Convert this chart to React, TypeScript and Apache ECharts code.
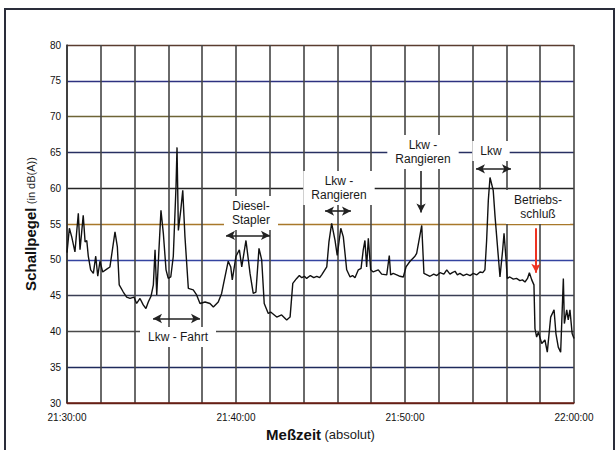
import React, { useEffect, useRef } from "react";
import * as echarts from "echarts";

// minutes after 21:30:00
const minutes = [
  0.0, 0.14, 0.28, 0.47, 0.67, 0.77, 0.87, 0.96, 1.07, 1.17, 1.26, 1.4, 1.56, 1.7, 1.82, 1.95,
  2.11, 2.35, 2.54, 2.84, 2.98, 3.09, 3.33, 3.53, 3.73, 3.96, 4.12, 4.32, 4.51, 4.67, 4.81, 4.97,
  5.11, 5.21, 5.31, 5.43, 5.56, 5.7, 5.86, 5.99, 6.14, 6.29, 6.45, 6.51, 6.59, 6.73, 6.85, 6.98,
  7.18, 7.47, 7.67, 7.87, 8.17, 8.46, 8.66, 8.95, 9.15, 9.25, 9.54, 9.69, 9.78, 10.0, 10.2, 10.34,
  10.59, 10.83, 11.02, 11.18, 11.36, 11.52, 11.67, 11.91, 12.05, 12.41, 12.7, 13.0, 13.2, 13.36,
  13.59, 13.75, 13.89, 14.05, 14.18, 14.4, 14.6, 14.78, 14.95, 15.07, 15.37, 15.5, 15.66, 15.86,
  15.99, 16.2, 16.35, 16.55, 16.75, 16.9, 17.04, 17.24, 17.4, 17.53, 17.63, 17.73, 17.83, 17.97,
  18.12, 18.42, 18.62, 18.92, 19.07, 19.15, 19.3, 19.51, 19.7, 19.9, 20.06, 20.3, 20.59, 20.69,
  20.99, 21.12, 21.48, 21.7, 21.88, 22.07, 22.3, 22.47, 22.66, 22.8, 22.96, 23.1, 23.25, 23.45,
  23.65, 23.85, 24.04, 24.25, 24.44, 24.6, 24.73, 24.83, 24.93, 25.03, 25.22, 25.33, 25.62, 25.78,
  25.86, 25.98, 26.05, 26.2, 26.41, 26.6, 26.8, 26.95, 27.1, 27.25, 27.36, 27.5, 27.63, 27.69,
  27.79, 27.89, 28.09, 28.28, 28.42, 28.62, 28.82, 28.93, 29.07, 29.21, 29.37, 29.43, 29.57, 29.66,
  29.76, 29.89, 30.0,
];

// Schallpegel in dB(A)
const levels = [
  51.0, 54.4, 53.2, 51.1, 56.5, 51.4, 53.9, 56.2, 52.5, 52.7, 50.5, 48.6, 48.1, 50.5, 47.7, 49.8,
  48.3, 48.7, 49.0, 53.9, 51.8, 46.5, 45.5, 44.8, 44.6, 44.8, 43.9, 44.6, 43.7, 43.2, 44.1, 44.9,
  46.5, 51.4, 45.1, 50.9, 56.9, 53.7, 48.6, 47.4, 47.6, 50.5, 60.2, 65.7, 54.1, 56.9, 59.7, 53.2,
  46.0, 45.8, 45.1, 43.9, 44.1, 43.9, 43.4, 44.1, 45.3, 46.5, 49.8, 49.0, 47.2, 50.5, 51.4, 49.0,
  52.7, 48.1, 45.3, 45.5, 51.6, 50.0, 43.9, 42.5, 42.7, 42.0, 42.3, 41.6, 42.0, 46.7,
  47.4, 47.8, 47.5, 47.7, 47.4, 47.8, 47.5, 47.7, 47.5, 47.9, 49.0, 52.5, 55.1, 52.7,
  50.6, 54.4, 53.2, 48.6, 47.6, 47.8, 47.5, 48.6, 48.8, 51.4, 52.7, 49.0, 53.0, 48.6,
  48.3, 48.6, 48.0, 47.9, 50.6, 47.9, 48.1, 47.9, 47.7, 47.6, 49.0, 49.8, 50.5, 50.9,
  54.8, 48.1, 47.7, 48.0, 47.8, 48.2, 48.0, 48.6, 48.0, 48.2, 48.4, 47.9, 48.1, 47.8,
  48.0, 47.8, 48.1, 47.9, 48.3, 48.2, 48.6, 52.7, 58.3, 61.5, 59.7, 56.0, 47.6, 51.4,
  53.7, 50.0, 47.4, 47.6, 47.3, 47.4, 47.1, 47.2, 46.9, 47.4, 48.2, 47.2, 46.5, 40.4,
  39.2, 39.9, 38.3, 38.8, 37.1, 42.0, 43.0, 39.7, 37.8, 37.1, 47.4, 41.1, 43.0, 41.6,
  43.0, 39.7, 39.0,
];

// horizontal gridline colours, from 30 to 80 dB(A)
const gridColors = [
  "#5a2418", "#1e2a5c", "#4a4a4a", "#3a3f55", "#3444a0", "#a8782a",
  "#252525", "#283062", "#6e6436", "#2d3280", "#5a3c30",
];

const annotations = [
  { text: "Lkw - Fahrt", x: 178, y: 337 },
  { text: "Diesel-\nStapler", x: 251, y: 213 },
  { text: "Lkw -\nRangieren", x: 339, y: 188 },
  { text: "Lkw -\nRangieren", x: 423, y: 152 },
  { text: "Lkw", x: 491, y: 151 },
  { text: "Betriebs-\nschluß", x: 538, y: 207 },
];

// arrows: [startMinute, startLevel, endMinute, endLevel, twoHeaded]
const arrows: [number, number, number, number, boolean][] = [
  [5.09, 41.8, 7.87, 41.8, true],
  [9.41, 53.4, 12.01, 53.4, true],
  [15.27, 56.8, 16.8, 56.8, true],
  [20.95, 62.4, 20.95, 56.6, false],
  [24.2, 62.7, 26.27, 62.7, true],
];
const redArrow: [number, number, number, number] = [27.75, 54.4, 27.75, 48.2];

function timeLabel(v: number) {
  const total = 21 * 60 + 30 + Math.round(v);
  const h = Math.floor(total / 60);
  const m = total % 60;
  return `${h}:${String(m).padStart(2, "0")}:00`;
}

export default function App() {
  const ref = useRef<HTMLDivElement>(null);
  useEffect(() => {
    if (!ref.current) return;
    const chart = echarts.init(ref.current, undefined, { renderer: "svg" });
    const data = minutes.map((m, i) => [m, levels[i]]);
    const font = "Arial, 'Liberation Sans', sans-serif";
    const arrowData: any[] = arrows.map((a) => [
      { coord: [a[0], a[1]], symbol: a[4] ? "arrow" : "none" },
      { coord: [a[2], a[3]], symbol: "arrow" },
    ]);
    arrowData.push([
      { coord: [redArrow[0], redArrow[1]], symbol: "none", lineStyle: { color: "#ee3322", width: 2 } },
      { coord: [redArrow[2], redArrow[3]], symbol: "arrow", lineStyle: { color: "#ee3322", width: 2 } },
    ]);
    chart.setOption({
      animation: false,
      backgroundColor: "#ffffff",
      grid: { left: 67, right: 42, top: 45, bottom: 47 },
      xAxis: {
        type: "value",
        min: 0,
        max: 30,
        interval: 2,
        name: "{b|Meßzeit} {n|(absolut)}",
        nameLocation: "middle",
        nameGap: 16,
        nameTextStyle: {
          rich: {
            b: { fontSize: 15, fontWeight: "bold", color: "#111", fontFamily: font },
            n: { fontSize: 13, color: "#222", fontFamily: font },
          },
        },
        axisLine: { show: true, lineStyle: { color: "#6a1e14", width: 1.5 } },
        axisTick: { show: false },
        axisLabel: {
          margin: 9,
          fontSize: 10,
          color: "#111",
          fontFamily: font,
          formatter: (v: number) => (v % 10 === 0 ? timeLabel(v) : ""),
        },
        splitLine: { show: true, lineStyle: { color: "#454545", width: 1.6 } },
      },
      yAxis: {
        type: "value",
        min: 30,
        max: 80,
        interval: 5,
        name: "{b|Schallpegel} {n|(in dB(A))}",
        nameLocation: "middle",
        nameGap: 29,
        nameRotate: 90,
        nameTextStyle: {
          rich: {
            b: { fontSize: 15, fontWeight: "bold", color: "#111", fontFamily: font },
            n: { fontSize: 11, color: "#222", fontFamily: font },
          },
        },
        axisLine: { show: true, lineStyle: { color: "#333", width: 1.5 } },
        axisTick: { show: false },
        axisLabel: { margin: 6, fontSize: 10, color: "#111", fontFamily: font },
        splitLine: { show: true, lineStyle: { color: gridColors, width: 1.3 } },
      },
      graphic: [
        {
          type: "rect",
          shape: { x: 5, y: 9, width: 609, height: 470 },
          style: { fill: "none", stroke: "#2a2d3a", lineWidth: 2 },
          silent: true,
          z: 1,
        },
        ...annotations.map((a) => ({
          type: "text",
          x: a.x,
          y: a.y,
          z: 1,
          silent: true,
          style: {
            text: a.text,
            fontSize: 12,
            fontFamily: font,
            fill: "#1a1a1a",
            align: "center",
            verticalAlign: "middle",
            lineHeight: 14,
            backgroundColor: "#ffffff",
            padding: [3, 8],
          },
        })),
      ],
      series: [
        {
          type: "line",
          data,
          showSymbol: false,
          symbol: "none",
          z: 3,
          lineStyle: { color: "#111", width: 1.4 },
          markLine: {
            silent: true,
            symbolSize: [7, 9],
            label: { show: false },
            lineStyle: { color: "#222", width: 1.6, type: "solid" },
            data: arrowData,
          },
        },
      ],
    });
    return () => chart.dispose();
  }, []);
  return (
    <div
      ref={ref}
      style={{ position: "absolute", left: 0, top: 0, width: 616, height: 450 }}
    />
  );
}
